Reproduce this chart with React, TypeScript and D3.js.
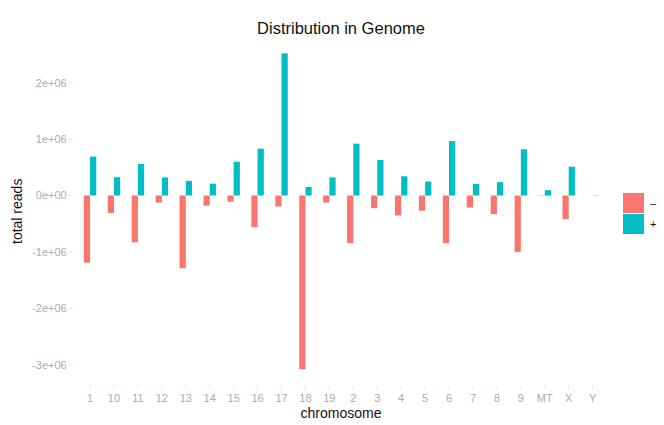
import * as d3 from 'd3';

const chromosomes = ['1', '10', '11', '12', '13', '14', '15', '16', '17', '18', '19', '2', '3', '4', '5', '6', '7', '8', '9', 'MT', 'X', 'Y'];
// reads on the + strand
const plusReads = [690000, 325000, 560000, 320000, 260000, 210000, 600000, 830000, 2520000, 150000, 320000, 920000, 630000, 340000, 250000, 965000, 207000, 237000, 820000, 95000, 510000, 5000];
// reads on the - strand (stored as negatives)
const minusReads = [-1190000, -310000, -830000, -125000, -1290000, -180000, -110000, -560000, -195000, -3080000, -125000, -846000, -225000, -355000, -270000, -846000, -213000, -330000, -1000000, -5000, -420000, 0];
const yTicks = [2e6, 1e6, 0, -1e6, -2e6, -3e6];
const strands = ['-', '+'];
const strandColors = ['#F8766D', '#00BFC4'];

const W = 664;
const H = 425;
const panel = { left: 75.7, right: 607, top: 37.6, bottom: 385 };

function sci(v: number) {
  if (v === 0) return '0e+00';
  const exp = Math.floor(Math.log10(Math.abs(v)));
  const m = v / Math.pow(10, exp);
  return `${m}e+${String(exp).padStart(2, '0')}`;
}

export default function App() {
  const x = d3.scalePoint<string>().domain(chromosomes).range([panel.left, panel.right]).padding(0.6);
  const lo = d3.min(minusReads)!;
  const hi = d3.max(plusReads)!;
  const pad = (hi - lo) * 0.05;
  const y = d3.scaleLinear().domain([lo - pad, hi + pad]).range([panel.bottom, panel.top]);
  const barW = x.step() * 0.26;
  const font = '"Liberation Sans", Arial, Helvetica, sans-serif';

  return (
    <svg width={W} height={H} style={{ position: 'absolute', left: 0, top: 0, background: '#fff' }} fontFamily={font}>
      <text x={341} y={34} textAnchor="middle" fontSize={16.5} fill="#111">
        Distribution in Genome
      </text>

      {/* y axis */}
      {yTicks.map((t) => (
        <g key={t}>
          <line x1={panel.left - 7} x2={panel.left - 3} y1={y(t)} y2={y(t)} stroke="#e4e4e4" />
          <text x={panel.left - 9} y={y(t)} dy="0.35em" textAnchor="end" fontSize={11} fill="#ababab">
            {sci(t)}
          </text>
        </g>
      ))}
      <text transform={`translate(22,${(panel.top + panel.bottom) / 2}) rotate(-90)`} textAnchor="middle" fontSize={14} fill="#111">
        total reads
      </text>

      {/* x axis */}
      {chromosomes.map((c) => (
        <g key={c}>
          <line x1={x(c)} x2={x(c)} y1={panel.bottom} y2={panel.bottom + 4} stroke="#e4e4e4" />
          <text x={x(c)} y={panel.bottom + 13.5} dy="0.35em" textAnchor="middle" fontSize={11} fill="#ababab">
            {c}
          </text>
        </g>
      ))}
      <text x={341} y={418} textAnchor="middle" fontSize={14} fill="#111">
        chromosome
      </text>

      {/* bars */}
      {chromosomes.map((c, i) => (
        <g key={c}>
          <rect
            x={x(c)! - barW}
            width={barW}
            y={y(0)}
            height={Math.max(0, y(minusReads[i]) - y(0))}
            fill={strandColors[0]}
          />
          <rect
            x={x(c)!}
            width={barW}
            y={y(plusReads[i])}
            height={Math.max(0, y(0) - y(plusReads[i]))}
            fill={strandColors[1]}
          />
        </g>
      ))}

      {/* legend */}
      {strands.map((s, i) => (
        <g key={s} transform={`translate(623,${193 + i * 21})`}>
          <rect width={21} height={20} fill={strandColors[i]} />
          <text x={27} y={10} dy="0.35em" fontSize={11} fill="#111">
            {s === '-' ? '\u2013' : s}
          </text>
        </g>
      ))}
    </svg>
  );
}
